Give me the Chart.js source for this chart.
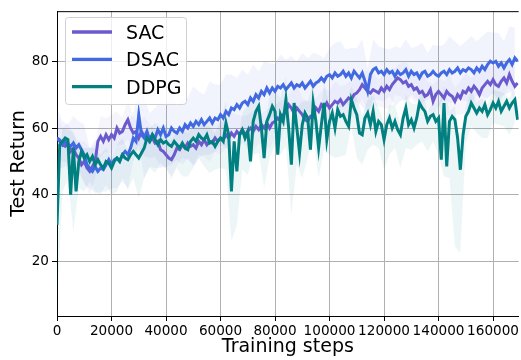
<!DOCTYPE html>
<html>
<head>
<meta charset="utf-8">
<script src="https://cdn.jsdelivr.net/npm/chart.js@4.4.1/dist/chart.umd.min.js"></script>
<style>
  body { margin: 0; background: #fff; }
  canvas { display: block; }
</style>
</head>
<body>
<canvas id="grafica" width="521" height="360"></canvas>
<script>
// one value every 1000 training steps
const STEP = 1000;

const nomsSeries = ['SAC', 'DSAC', 'DDPG'];
const colorsSeries = ['#6a5acd', '#4169e1', '#008080'];
const colorsBanda = ['rgba(106, 90, 205, 0.06)', 'rgba(65, 105, 225, 0.07)', 'rgba(0, 128, 128, 0.07)'];

const xTicks = [0, 20000, 40000, 60000, 80000, 100000, 120000, 140000, 160000];
const yTicks = [20, 40, 60, 80];

const sac = [
    57, 56, 55, 54.5, 55.5, 53, 54, 52, 51, 49,
    50, 48, 47, 48.5, 50, 56, 57.5, 56, 58, 56.5,
    58, 57, 60, 58.5, 59, 61, 62.5, 60, 58.5, 59,
    57, 59, 57.5, 58.5, 56, 57, 55.5, 56, 53.5, 53,
    52, 51, 50.5, 52, 54, 53.5, 55, 54, 55.5, 54.5,
    55, 54, 56, 55, 56.5, 55, 56, 55.5, 57, 56,
    57, 56.5, 58, 57, 58.5, 57.5, 59, 58, 59.5, 58,
    59, 60, 59, 60.5, 59.5, 61, 60, 61.5, 60, 61.5,
    62, 63, 62, 64, 65, 67, 66, 64.5, 66, 65,
    64, 62.5, 62, 63.5, 64, 66, 65, 67, 66, 67.5,
    66, 67, 68, 67.5, 68.5, 67, 68, 69, 68.5, 70,
    70.5, 71.5, 73, 72, 71, 70.5, 71.5, 71, 70.5, 72,
    71, 72.5, 71.5, 73, 74, 75, 74.5, 73.5, 74, 72.5,
    73, 71.5, 72, 70.5, 71, 69.5, 70, 71.5, 68, 70,
    71, 70, 69, 71, 70, 69.5, 68, 70, 69, 71,
    70.5, 72, 71, 72.5, 71.5, 70, 72, 73, 74, 73,
    74.5, 73, 72.5, 74, 75, 73.5, 76, 74, 72.5, 73.5
];

const dsac = [
    57, 56.5, 55, 56, 55, 54.5, 55.5, 54, 55, 53.5,
    52, 49, 48, 47, 48.5, 47, 48, 47.5, 49, 50.5,
    49, 50.5, 51, 50, 52, 53, 52, 54, 57, 56,
    64, 58, 57, 59, 56.5, 58, 57, 59.5, 58, 60,
    57.5, 58, 60, 59, 58.5, 60, 59, 61, 60, 61.5,
    60.5, 62, 61, 62.5, 61, 62, 63, 61.5, 63, 62.5,
    64, 63, 65, 64, 66, 65.5, 67, 66, 67.5, 68,
    67, 69, 68, 70, 69, 71, 70, 72, 70.5, 72,
    71, 72.5, 72, 73, 71.5, 72.5, 73.5, 72, 73, 72.5,
    73.5, 72, 73, 74, 72.5, 73.5, 74, 75, 74, 75.5,
    76, 75, 76.5, 75.5, 76, 77, 75.5, 76.5, 75, 77,
    76, 75, 76.5, 74, 71, 76, 77.5, 78, 76.5, 77,
    76, 77.5, 76.5, 77, 75.5, 77, 76, 76.5, 77.5, 75.5,
    77, 76, 76.5, 75, 76.5, 77, 75.5, 76, 77, 76,
    75.5, 76.5, 77, 76, 77.5, 76.5, 77, 78, 76.5, 77.5,
    77, 78, 77.5, 76.5, 78, 77, 78.5, 77.5, 79, 80,
    79.5, 80, 78.5, 79.5, 78, 79.5, 80.5, 79, 81, 80
];

const ddpg = [
    31, 55, 56, 57, 56.5, 40, 54, 41, 50, 53,
    51, 52, 50, 51.5, 49, 50.5, 49, 48, 50, 49.5,
    48, 50, 51, 50, 52, 51, 50.5, 52, 53, 52,
    51, 52.5, 54, 57, 56, 58, 56.5, 55, 56.5, 55.5,
    56, 55, 54.5, 56, 55, 54, 55.5, 54, 53.5, 56,
    57, 56, 58, 57, 56.5, 58, 55.5, 56, 54.5, 56,
    57, 56, 61.5, 58, 41, 56, 47, 58, 59.5, 57,
    59, 50, 62, 65, 66.5, 60, 51, 62, 64, 66.5,
    65, 52, 64, 62, 68.5, 60, 49, 67.5, 60, 52.5,
    61, 64.5, 63, 53.5, 67.5, 62, 54, 61, 67.5, 56.5,
    62, 64.5, 60, 65.5, 63.5, 64, 62, 60.5, 68.5, 66,
    64, 58.5, 58, 63, 64.5, 61, 65, 59, 62, 61,
    56.5, 61, 63, 60, 62, 59.5, 58, 63, 66, 61,
    62.5, 60, 63, 67.5, 66, 65, 62, 63.5, 64, 62,
    63, 50.5, 67.5, 48.5, 62, 63.5, 62.5, 57, 47.5, 58,
    63.5, 65, 67.5, 66, 64.5, 66, 65, 67, 64, 65.5,
    67.5, 66, 68, 65, 66.5, 68, 66, 67.5, 68.5, 62.5
];

// spread of the shaded band, one value every 2000 steps
const sacDesv = [
    7, 5, 6, 4, 5, 6, 7, 5, 6, 5,
    6, 5, 4, 6, 5, 4, 6, 5, 4, 5,
    4, 6, 5, 4, 5, 6, 4, 5, 6, 4,
    5, 4, 6, 5, 4, 5, 6, 4, 5, 6,
    5, 6, 4, 5, 7, 5, 6, 4, 5, 6,
    5, 6, 4, 5, 6, 5, 4, 6, 5, 4,
    5, 6, 4, 5, 6, 4, 5, 6, 4, 5,
    4, 5, 6, 4, 5, 6, 4, 5, 6, 5,
    4, 6, 5, 4, 5
];

const dsacDesv = [
    9, 7, 6, 8, 7, 9, 6, 8, 7, 8,
    7, 9, 8, 10, 7, 9, 12, 8, 9, 10,
    9, 11, 8, 10, 9, 12, 10, 9, 11, 10,
    9, 11, 10, 8, 10, 9, 11, 8, 10, 9,
    8, 10, 9, 8, 7, 9, 8, 10, 8, 7,
    8, 9, 10, 8, 9, 8, 10, 7, 9, 8,
    8, 7, 9, 8, 9, 7, 8, 9, 7, 8,
    9, 8, 10, 9, 8, 9, 10, 8, 9, 10,
    9, 10, 8, 10, 9
];

const ddpgDesvAmunt = [
    10, 4, 3, 5, 4, 3, 4, 5, 3, 4,
    3, 4, 5, 3, 4, 6, 5, 4, 5, 4,
    5, 4, 3, 4, 5, 4, 5, 4, 5, 4,
    5, 7, 4, 6, 5, 8, 6, 5, 7, 6,
    6, 5, 7, 5, 6, 7, 5, 6, 5, 6,
    5, 4, 6, 5, 4, 5, 6, 4, 5, 4,
    5, 4, 5, 3, 4, 5, 4, 5, 3, 4,
    4, 5, 3, 4, 5, 3, 4, 3, 4, 3,
    4, 3, 4, 3, 4
];

const ddpgDesvAvall = [
    24, 15, 12, 25, 8, 10, 6, 8, 9, 7,
    8, 10, 7, 9, 8, 12, 9, 8, 10, 7,
    8, 9, 7, 10, 8, 9, 7, 8, 9, 7,
    9, 14, 15, 16, 12, 13, 10, 14, 9, 13,
    10, 12, 14, 15, 11, 16, 12, 10, 9, 14,
    10, 9, 12, 10, 8, 13, 9, 11, 10, 8,
    9, 11, 8, 10, 12, 9, 8, 10, 9, 8,
    11, 22, 17, 38, 25, 8, 7, 6, 8, 7,
    6, 7, 6, 8, 7
];

const series = [sac, dsac, ddpg];
const desvAmunt = [sacDesv, dsacDesv, ddpgDesvAmunt];
const desvAvall = [sacDesv, dsacDesv, ddpgDesvAvall];

function punts(valors) {
    return valors.map((v, i) => ({ x: i * STEP, y: v }));
}

function banda(valors, desv, signe) {
    return desv.map((d, i) => ({ x: i * 2 * STEP, y: valors[i * 2] + signe * d }));
}

const datasets = [];
series.forEach((valors, s) => {
    datasets.push({
        data: banda(valors, desvAmunt[s], 1),
        borderWidth: 0,
        pointRadius: 0,
        backgroundColor: colorsBanda[s],
        fill: '+1',
        order: 10
    });
    datasets.push({
        data: banda(valors, desvAvall[s], -1),
        borderWidth: 0,
        pointRadius: 0,
        fill: false,
        order: 10
    });
});
series.forEach((valors, s) => {
    datasets.push({
        label: nomsSeries[s],
        data: punts(valors),
        borderColor: colorsSeries[s],
        borderWidth: 3,
        pointRadius: 0,
        fill: false,
        tension: 0,
        order: 3 - s
    });
});

const fontEixos = { family: 'DejaVu Sans', size: 13.6 };

const marcSuperior = {
    id: 'marcSuperior',
    afterDatasetsDraw(chart) {
        const { ctx, chartArea } = chart;
        ctx.save();
        ctx.strokeStyle = '#000';
        ctx.lineWidth = 1;
        ctx.beginPath();
        ctx.moveTo(chartArea.left, chartArea.top + 0.5);
        ctx.lineTo(chartArea.right, chartArea.top + 0.5);
        ctx.stroke();
        ctx.restore();
    }
};

const llegenda = {
    id: 'llegenda',
    afterDraw(chart) {
        const ctx = chart.ctx;
        ctx.save();
        ctx.beginPath();
        ctx.roundRect(65.5, 17.5, 121, 87, 3);
        ctx.fillStyle = 'rgba(255, 255, 255, 0.8)';
        ctx.fill();
        ctx.strokeStyle = '#d0d0d0';
        ctx.lineWidth = 1;
        ctx.stroke();
        ctx.font = '19px "DejaVu Sans"';
        ctx.textBaseline = 'alphabetic';
        nomsSeries.forEach((nom, i) => {
            const y = 32 + i * 27.3;
            ctx.strokeStyle = colorsSeries[i];
            ctx.lineWidth = 3.3;
            ctx.beginPath();
            ctx.moveTo(72, y);
            ctx.lineTo(112, y);
            ctx.stroke();
            ctx.fillStyle = '#000';
            ctx.fillText(nom, 126, y + 7);
        });
        ctx.restore();
    }
};

new Chart(document.getElementById('grafica'), {
    type: 'line',
    data: { datasets: datasets },
    options: {
        responsive: false,
        animation: false,
        devicePixelRatio: 1,
        layout: { padding: { top: 7, right: 0, bottom: 0, left: 0 } },
        plugins: {
            legend: { display: false },
            tooltip: { enabled: false },
            filler: { drawTime: 'beforeDatasetsDraw' }
        },
        scales: {
            x: {
                type: 'linear',
                min: 0,
                max: 169400,
                afterBuildTicks: scale => { scale.ticks = xTicks.map(v => ({ value: v })); },
                afterFit: scale => { scale.height = 44; },
                ticks: {
                    autoSkip: false,
                    maxRotation: 0,
                    color: '#000',
                    font: fontEixos,
                    padding: 2,
                    callback: v => String(v)
                },
                grid: { color: '#b0b0b0', lineWidth: 1, tickColor: '#000', tickLength: 5 },
                border: { color: '#000', width: 1 },
                title: {
                    display: true,
                    text: 'Training steps',
                    color: '#000',
                    font: { family: 'DejaVu Sans', size: 19 },
                    padding: { top: 0, bottom: 1.5 }
                }
            },
            y: {
                min: 3.7,
                max: 95,
                afterBuildTicks: scale => { scale.ticks = yTicks.map(v => ({ value: v })); },
                afterFit: scale => { scale.width = 57; },
                ticks: { color: '#000', font: fontEixos, padding: 3 },
                grid: { color: '#b0b0b0', lineWidth: 1, tickColor: '#000', tickLength: 5 },
                border: { color: '#000', width: 1 },
                title: {
                    display: true,
                    text: 'Test Return',
                    color: '#000',
                    font: { family: 'DejaVu Sans', size: 19 },
                    padding: { top: 8, bottom: 0 }
                }
            }
        }
    },
    plugins: [marcSuperior, llegenda]
});
</script>
</body>
</html>
